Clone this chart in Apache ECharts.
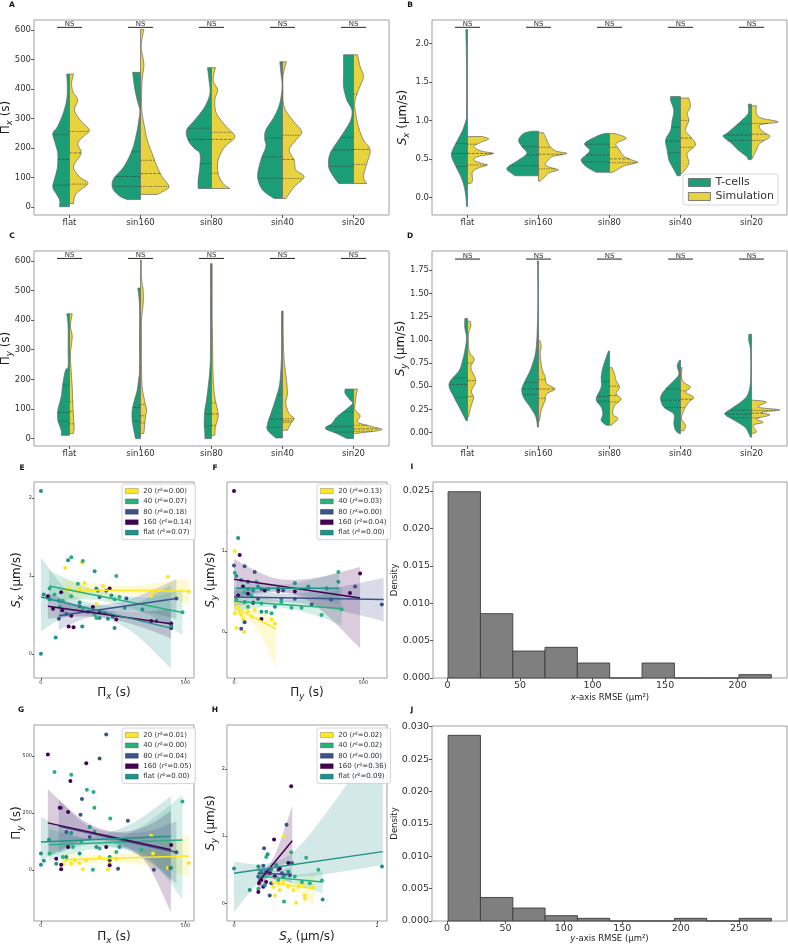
<!DOCTYPE html>
<html><head><meta charset="utf-8">
<script src="https://cdn.jsdelivr.net/npm/echarts@6/dist/echarts.min.js"></script>
<style>html,body{margin:0;padding:0;background:#fff}#c{width:788px;height:944px}</style>
</head><body><div id="c"></div>
<script>
const FONT = 'DejaVu Sans';
const CATEGORIES = ['flat','sin160','sin80','sin40','sin20'];
const GROUPS = ['20','40','80','160','flat'];
const NS_LABELS = ['NS','NS','NS','NS','NS'];
const NS_LEVEL = [610, 2.21, 608, 1.87]; // panels A-D

// ---- violin profiles: [value, half-width as fraction of category band] ----
const A_T = [
 [[451,0.04],[408,0.03],[363,0.04],[317,0.09],[272,0.17],[249,0.235],[215,0.2],[181,0.165],[136,0.17],[113,0.19],[68,0.235],[45,0.19],[23,0.14],[0,0.14]],
 [[457,0.11],[408,0.085],[363,0.047],[329,0.01],[295,0.023],[249,0.056],[193,0.117],[136,0.235],[102,0.36],[80,0.4],[57,0.38],[34,0.28],[25,0.19]],
 [[473,0.056],[431,0.035],[385,0.023],[340,0.094],[295,0.235],[261,0.35],[227,0.33],[200,0.25],[181,0.164],[136,0.164],[91,0.188],[62,0.188]],
 [[493,0.038],[450,0.02],[408,0.005],[352,0.038],[306,0.117],[261,0.235],[230,0.25],[204,0.235],[159,0.305],[102,0.35],[57,0.28],[28,0.117]],
 [[517,0.14],[450,0.14],[408,0.14],[363,0.094],[329,0.023],[295,0.038],[261,0.117],[227,0.21],[181,0.33],[136,0.35],[102,0.28],[79,0.21]]
];
const A_S = [
 [[451,0.056],[420,0.03],[390,0.05],[363,0.117],[329,0.07],[295,0.15],[261,0.28],[240,0.2],[215,0.117],[181,0.164],[136,0.056],[100,0.15],[79,0.26],[45,0.094],[11,0.056]],
 [[603,0.047],[560,0.014],[533,0.014],[500,0.04],[476,0.047],[431,0.023],[363,0.014],[317,0.023],[272,0.056],[227,0.094],[181,0.164],[136,0.235],[102,0.305],[68,0.4],[50,0.3],[42,0.235]],
 [[473,0.056],[431,0.023],[397,0.085],[363,0.047],[317,0.07],[272,0.21],[238,0.33],[204,0.188],[159,0.094],[113,0.094],[79,0.164],[62,0.26]],
 [[493,0.056],[450,0.01],[400,0.005],[340,0.023],[295,0.14],[255,0.27],[227,0.188],[193,0.094],[159,0.164],[125,0.188],[102,0.305],[68,0.164],[28,0.047]],
 [[517,0.056],[476,0.094],[442,0.14],[397,0.07],[363,0.023],[329,0.023],[272,0.07],[227,0.14],[193,0.235],[147,0.188],[102,0.14],[79,0.188]]
];
const A_TQ = [[73,161,245],[69,103,187],[147,229,267],[97,170,234],[137,193,236]];
const A_SQ = [[77,183,256],[69,113,158],[114,229,253],[96,161,243],[144,195,383]];

const B_T = [
 [[2.18,0.023],[1.7,0.014],[1.09,0.014],[1.0,0.023],[0.87,0.07],[0.745,0.14],[0.615,0.21],[0.53,0.225],[0.4,0.164],[0.27,0.094],[0.14,0.047],[0.01,0.023],[-0.12,0.014]],
 [[0.86,0.085],[0.83,0.21],[0.745,0.28],[0.66,0.235],[0.57,0.164],[0.485,0.28],[0.38,0.445],[0.31,0.375],[0.28,0.33]],
 [[0.83,0.07],[0.79,0.188],[0.7,0.35],[0.615,0.28],[0.55,0.33],[0.485,0.4],[0.4,0.33],[0.325,0.188]],
 [[1.31,0.14],[1.26,0.14],[1.13,0.094],[1.0,0.117],[0.87,0.14],[0.745,0.21],[0.615,0.188],[0.485,0.164],[0.4,0.117],[0.28,0.047]],
 [[1.21,0.047],[1.09,0.047],[1.0,0.14],[0.92,0.235],[0.83,0.35],[0.79,0.4],[0.7,0.28],[0.615,0.188],[0.53,0.07],[0.49,0.047]]
];
const B_S = [
 [[0.79,0.21],[0.76,0.3],[0.72,0.2],[0.66,0.09],[0.6,0.2],[0.57,0.366],[0.53,0.15],[0.485,0.09],[0.44,0.2],[0.42,0.28],[0.38,0.15],[0.33,0.07],[0.25,0.07],[0.21,0.07],[0.18,0.047]],
 [[0.84,0.07],[0.745,0.117],[0.66,0.164],[0.6,0.25],[0.57,0.4],[0.53,0.2],[0.485,0.14],[0.42,0.094],[0.38,0.2],[0.355,0.28],[0.32,0.15],[0.27,0.094],[0.21,0.023]],
 [[0.83,0.07],[0.77,0.235],[0.7,0.094],[0.615,0.14],[0.53,0.21],[0.48,0.33],[0.455,0.4],[0.42,0.25],[0.4,0.188],[0.325,0.047]],
 [[1.29,0.117],[1.18,0.14],[1.09,0.094],[1.0,0.117],[0.87,0.07],[0.79,0.14],[0.68,0.21],[0.57,0.094],[0.44,0.117],[0.31,0.023]],
 [[1.19,0.07],[1.09,0.07],[1.03,0.14],[0.98,0.375],[0.94,0.117],[0.85,0.164],[0.79,0.26],[0.7,0.117],[0.615,0.07],[0.53,0.023],[0.51,0.023]]
];
const B_TQ = [[0.40,0.57,0.70],[0.41,0.55,0.66],[0.46,0.55,0.69],[0.58,0.73,0.91],[0.74,0.81,0.95]];
const B_SQ = [[0.42,0.57,0.69],[0.37,0.56,0.65],[0.45,0.50,0.65],[0.65,0.77,1.0],[0.74,0.82,0.96]];

const C_T = [
 [[421,0.038],[380,0.02],[300,0.019],[242,0.02],[231,0.056],[186,0.094],[141,0.117],[96,0.164],[62,0.164],[28,0.117],[11,0.117]],
 [[508,0.038],[450,0.014],[350,0.014],[231,0.014],[197,0.028],[163,0.047],[130,0.085],[96,0.117],[62,0.117],[28,0.094],[0,0.07]],
 [[590,0.014],[450,0.014],[300,0.014],[231,0.023],[175,0.047],[130,0.07],[96,0.094],[51,0.103],[17,0.094],[0,0.094]],
 [[430,0.014],[350,0.014],[287,0.014],[231,0.023],[175,0.047],[118,0.117],[84,0.164],[51,0.21],[28,0.21],[2,0.094]],
 [[167,0.117],[152,0.117],[130,0.047],[118,0.014],[96,0.117],[73,0.235],[51,0.305],[34,0.4],[17,0.235],[0,0.094]]
];
const C_S = [
 [[421,0.038],[380,0.014],[343,0.038],[287,0.014],[231,0.023],[175,0.038],[118,0.047],[73,0.056],[39,0.066],[17,0.056]],
 [[602,0.014],[540,0.014],[500,0.038],[456,0.038],[400,0.014],[343,0.014],[250,0.014],[175,0.023],[130,0.056],[96,0.085],[73,0.07],[39,0.056],[17,0.047]],
 [[590,0.01],[500,0.01],[400,0.01],[343,0.014],[208,0.023],[141,0.047],[96,0.085],[73,0.094],[39,0.056],[11,0.047]],
 [[430,0.01],[350,0.01],[265,0.023],[197,0.056],[152,0.07],[118,0.047],[84,0.094],[68,0.164],[51,0.117],[28,0.07]],
 [[167,0.056],[146,0.038],[118,0.023],[96,0.023],[77,0.094],[56,0.056],[42,0.235],[30,0.4],[19,0.094],[17,0.023]]
];
const C_TQ = [[59,87,180],[58,105,242],[43,83,216],[38,66,148],[22,40,90]];
const C_SQ = [[50,92,125],[53,77,115],[45,83,120],[55,60,67],[25,33,45]];

const D_T = [
 [[1.23,0.038],[1.13,0.038],[1.02,0.014],[0.88,0.038],[0.775,0.07],[0.67,0.117],[0.525,0.26],[0.38,0.188],[0.275,0.117],[0.17,0.047],[0.13,0.023]],
 [[1.85,0.014],[1.5,0.01],[1.2,0.014],[0.95,0.028],[0.81,0.056],[0.67,0.117],[0.56,0.188],[0.47,0.235],[0.38,0.21],[0.275,0.117],[0.17,0.038],[0.06,0.014]],
 [[0.88,0.014],[0.81,0.047],[0.7,0.094],[0.6,0.117],[0.49,0.117],[0.36,0.188],[0.275,0.117],[0.2,0.094],[0.13,0.117],[0.08,0.047]],
 [[0.78,0.014],[0.72,0.047],[0.63,0.023],[0.56,0.094],[0.47,0.21],[0.38,0.28],[0.275,0.235],[0.2,0.094],[0.1,0.094],[0.025,0.07],[-0.01,0.023]],
 [[1.06,0.038],[0.99,0.038],[0.88,0.014],[0.56,0.014],[0.42,0.047],[0.35,0.117],[0.26,0.28],[0.2,0.375],[0.13,0.235],[0.06,0.094],[-0.01,0.038],[-0.05,0.014]]
];
const D_S = [
 [[1.2,0.038],[1.15,0.047],[1.06,0.014],[0.88,0.023],[0.79,0.094],[0.7,0.047],[0.56,0.117],[0.45,0.056],[0.38,0.085],[0.275,0.047],[0.2,0.023],[0.17,0.014]],
 [[0.99,0.023],[0.92,0.038],[0.85,0.023],[0.7,0.047],[0.6,0.094],[0.525,0.117],[0.47,0.235],[0.42,0.117],[0.35,0.094],[0.24,0.038],[0.17,0.023],[0.125,0.014]],
 [[0.7,0.038],[0.63,0.07],[0.56,0.094],[0.49,0.14],[0.42,0.094],[0.36,0.164],[0.29,0.07],[0.2,0.047],[0.15,0.117],[0.08,0.023]],
 [[0.7,0.023],[0.6,0.014],[0.54,0.047],[0.49,0.14],[0.435,0.07],[0.38,0.188],[0.33,0.117],[0.24,0.047],[0.15,0.014],[0.08,0.07],[0.02,0.047]],
 [[0.35,0.023],[0.33,0.21],[0.275,0.094],[0.245,0.4],[0.22,0.14],[0.19,0.26],[0.15,0.07],[0.11,0.164],[0.08,0.023],[0.01,0.07],[-0.01,0.014]]
];
const D_TQ = [[0.38,0.52,0.59],[0.41,0.47,0.54],[0.34,0.39,0.55],[0.27,0.35,0.47],[0.16,0.20,0.24]];
const D_SQ = [[0.39,0.56,0.75],[0.37,0.47,0.57],[0.33,0.40,0.50],[0.27,0.36,0.45],[0.16,0.21,0.24]];

const TICKS_A = [0,100,200,300,400,500,600];
const TICKS_B = [0,0.5,1,1.5,2];
const TICKS_C = [0,100,200,300,400,500,600];
const TICKS_D = [0,0.25,0.5,0.75,1,1.25,1.5,1.75];

// ---- scatter panels (order: 20, 40, 80, 160, flat) ----
const E_R2 = ['0.00','0.07','0.18','0.14','0.07'];
const E_20 = [[84,1.10],[142,1.17],[99,0.84],[134,0.84],[151,0.91],[163,0.82],[215,0.87],[440,0.99],[382,0.74],[512,0.80],[192,0.64],[238,0.71],[388,0.80]];
const E_40 = [[105,1.24],[145,1.19],[261,1.00],[47,0.76],[76,0.68],[105,0.74],[197,0.81],[255,0.70],[145,0.58],[186,0.50],[490,0.535],[192,0.46],[128,0.90],[30,0.84],[272,0.73]];
const E_80 = [[88,0.51],[62,0.45],[163,0.54],[221,0.52],[249,0.48],[296,0.71],[400,0.42],[469,0.71],[203,0.73],[134,0.61],[226,0.81]];
const E_160 = [[24,0.74],[70,0.79],[42,0.58],[74,0.56],[105,0.49],[96,0.35],[113,0.34],[180,0.60],[203,0.54],[238,0.84],[261,0.44],[382,0.42],[451,0.39],[451,0.33]];
const E_FLAT = [[0,2.09],[0,0],[10,0.76],[30,0.70],[62,0.68],[94,1.20],[186,1.06],[192,0.84],[244,0.75],[134,0.66],[65,0.60],[51,0.21],[143,0.35],[232,0.45],[255,0.33],[290,0.59],[351,0.57],[203,0.46],[451,0.35]];
const E_FITS = [[[76,0.82],[512,0.805]],[[28,0.87],[490,0.53]],[[62,0.49],[469,0.71]],[[24,0.61],[450,0.385]],[[0,0.73],[450,0.33]]];
const E_BANDS = [
 [[76,0.70,0.95],[200,0.75,0.89],[300,0.76,0.87],[420,0.72,0.92],[512,0.64,0.96]],
 [[28,0.67,1.07],[150,0.70,0.87],[260,0.64,0.76],[380,0.49,0.73],[490,0.24,0.83]],
 [[62,0.31,0.67],[160,0.46,0.62],[280,0.54,0.67],[380,0.52,0.81],[469,0.45,0.96]],
 [[24,0.45,0.78],[130,0.48,0.63],[240,0.45,0.55],[350,0.34,0.54],[450,0.20,0.58]],
 [[0,0.29,1.24],[100,0.50,0.78],[200,0.48,0.63],[320,0.27,0.64],[450,-0.19,0.88]]
];

const F_R2 = ['0.13','0.03','0.00','0.04','0.00'];
const F_20 = [[3,1.0],[9,0.37],[16,0.31],[22,0.25],[28,0.21],[35,0.16],[41,0.13],[54,0.25],[9,0.05],[39,0.0],[80,0.27],[145,0.15],[158,0.10],[67,0.19],[3,0.23]];
const F_40 = [[3,0.73],[9,0.40],[54,0.31],[67,0.45],[106,0.35],[125,0.25],[145,0.23],[183,0.37],[222,0.30],[261,0.30],[338,0.21],[403,0.74],[416,0.28],[87,0.62],[41,0.49]];
const F_80 = [[0,0.82],[41,0.81],[80,0.74],[54,0.62],[106,0.53],[190,0.51],[235,0.41],[300,0.34],[375,0.40],[468,0.56],[571,0.34],[41,0.12],[28,0.04],[93,0.41],[171,0.50]];
const F_160 = [[0,1.74],[22,0.95],[487,0.72],[448,0.48],[106,0.16],[54,0.47],[119,0.51],[235,0.50],[16,0.45],[74,0.36],[171,0.53],[35,0.56]];
const F_FLAT = [[16,1.16],[9,0.69],[28,0.64],[54,0.53],[74,0.51],[93,0.56],[132,0.53],[235,0.60],[287,0.56],[358,0.54],[41,0.37],[158,0.31],[183,0.41],[403,0.62],[106,0.25]];
const F_FITS = [[[0,0.31],[161,0.04]],[[0,0.38],[416,0.29]],[[0,0.43],[578,0.40]],[[0,0.65],[487,0.42]],[[9,0.54],[406,0.54]]];
const F_BANDS = [
 [[0,0.21,0.42],[60,0.14,0.29],[110,-0.08,0.24],[161,-0.45,0.16]],
 [[0,0.25,0.52],[150,0.31,0.40],[300,0.22,0.42],[416,0.08,0.55]],
 [[0,0.32,0.56],[200,0.37,0.47],[400,0.27,0.55],[578,0.13,0.67]],
 [[0,0.42,0.90],[150,0.50,0.67],[300,0.36,0.66],[487,-0.20,0.80]],
 [[9,0.43,0.65],[200,0.49,0.59],[406,0.34,0.73]]
];

const G_R2 = ['0.01','0.00','0.04','0.05','0.00'];
const G_20 = [[76,25],[88,43],[105,28],[117,43],[134,31],[145,3],[157,43],[192,163],[203,57],[232,3],[238,28],[261,50],[382,150],[440,9],[512,31],[388,72]];
const G_40 = [[47,431],[105,419],[159,353],[182,343],[185,274],[240,226],[490,301],[30,72],[76,57],[180,1],[203,94],[261,79],[348,89],[111,101],[140,123]];
const G_80 = [[226,595],[203,490],[142,312],[70,273],[137,243],[301,216],[267,6],[391,1],[448,9],[469,78],[169,145],[238,43],[88,167]];
const G_160 = [[24,507],[102,391],[157,469],[65,273],[94,255],[70,3],[70,23],[451,110],[226,101],[53,50],[94,101],[238,21]];
const G_FLAT = [[0,72],[0,23],[10,41],[28,133],[53,28],[88,57],[134,72],[192,101],[186,167],[238,57],[272,101],[451,10],[105,163],[169,189]];
const G_FITS = [[[76,45],[512,62]],[[28,111],[490,132]],[[62,192],[469,78]],[[24,207],[450,89]],[[0,123],[450,148]]];
const G_BANDS = [
 [[76,18,73],[250,35,68],[400,10,100],[512,-30,155]],
 [[28,40,180],[150,85,140],[250,98,133],[370,60,210],[490,-130,330]],
 [[62,75,310],[150,130,205],[250,115,165],[370,45,170],[469,-60,215]],
 [[24,60,355],[150,130,215],[260,118,168],[360,40,190],[450,-185,260]],
 [[0,45,235],[120,100,150],[200,110,150],[330,70,215],[450,-45,325]]
];

const H_R2 = ['0.02','0.02','0.00','0.36','0.09'];
const H_20 = [[0.70,1.0],[0.57,0.12],[0.87,0.01],[0.99,0.12],[0.99,0.07],[1.11,0.25],[0.62,0.30],[0.69,0.32],[0.76,0.25],[0.83,0.20],[0.90,0.25],[0.64,0.20],[0.55,0.25],[0.95,0.30]];
const H_40 = [[0.80,0.76],[1.01,0.68],[1.18,0.50],[1.06,0.30],[0.70,0.03],[0.38,0.40],[0.50,0.46],[0.62,0.35],[0.71,0.42],[0.85,0.40],[0.95,0.32],[0.34,0.22],[0.45,0.69],[1.23,0.34]];
const H_80 = [[0.735,1.17],[0.42,0.82],[0.41,0.56],[0.50,0.12],[0.34,0.40],[0.45,0.47],[0.57,0.40],[0.67,0.45],[0.78,0.42],[0.52,0.30],[0.62,0.50],[0.81,0.60]];
const H_160 = [[0.80,1.74],[0.56,0.95],[0.34,0.17],[0.35,0.30],[0.38,0.35],[0.45,0.32],[0.50,0.45],[0.57,0.40],[0.64,0.52],[0.76,0.60],[0.41,0.25]];
const H_FLAT = [[0,0.52],[2.07,0.55],[0.22,0.20],[0.47,0.73],[1.24,0.06],[0.38,0.47],[0.52,0.50],[0.59,0.57],[0.69,0.40],[0.43,0.27],[0.76,0.47],[0.34,0.55]];
const H_FITS = [[[0.53,0.31],[1.12,0.22]],[[0.33,0.41],[1.24,0.32]],[[0.33,0.45],[0.81,0.43]],[[0.34,0.32],[0.815,0.93]],[[0,0.45],[2.08,0.77]]];
const H_BANDS = [
 [[0.53,0.22,0.39],[0.8,0.23,0.31],[1.12,-0.04,0.43]],
 [[0.33,0.30,0.53],[0.7,0.33,0.42],[1.24,0.15,0.48]],
 [[0.33,0.34,0.57],[0.55,0.39,0.48],[0.81,0.30,0.55]],
 [[0.34,0.15,0.46],[0.55,0.50,0.67],[0.815,0.62,1.45]],
 [[0,-0.12,0.62],[0.5,0.44,0.60],[1.0,0.40,0.95],[2.08,0.57,2.52]]
];

// ---- histograms ----
const I_EDGES = [0.4,22.7,45.0,67.2,89.5,111.8,134.1,156.4,178.6,200.9,223.2];
const I_DENS = [0.0249,0.0086,0.0036,0.0041,0.0020,0,0.0020,0,0,0.00045];
const J_EDGES = [0.9,28.6,56.3,83.9,111.6,139.3,167.0,194.7,222.3,250.0,277.7];
const J_DENS = [0.02866,0.00363,0.0020,0.00082,0.00041,0,0,0.00041,0,0.00041];

// ================= styles / helpers =================
const COL_T = '#1b9e77', COL_S = '#e8d33f';
const GCOL = ['#fde725','#2ab07f','#3b528b','#440154','#21918c'];
function rgba(hex, a){const n=parseInt(hex.slice(1),16);return `rgba(${n>>16},${(n>>8)&255},${n&255},${a})`;}
function catmull(pts, seg){
  if (pts.length < 3) return pts.slice();
  const out=[];
  for(let i=0;i<pts.length-1;i++){
    const p0=pts[Math.max(i-1,0)],p1=pts[i],p2=pts[i+1],p3=pts[Math.min(i+2,pts.length-1)];
    for(let s=0;s<seg;s++){const t=s/seg,t2=t*t,t3=t2*t;
      out.push([0,1].map(k=>0.5*((2*p1[k])+(-p0[k]+p2[k])*t+(2*p0[k]-5*p1[k]+4*p2[k]-p3[k])*t2+(-p0[k]+3*p1[k]-3*p2[k]+p3[k])*t3)));}
  }
  out.push(pts[pts.length-1]);
  return out;
}
function interpW(prof, q){
  if (q<=prof[0][0]) return prof[0][1];
  for(let k=1;k<prof.length;k++){ if(q<=prof[k][0]){const a=prof[k-1],b=prof[k];return a[1]+(b[1]-a[1])*(q-a[0])/(b[0]-a[0]);}}
  return prof[prof.length-1][1];
}
function RICH(fs){
  const lh = fs*1.4;
  return {m:{fontSize:fs,fontFamily:FONT,color:'#222',lineHeight:lh},
          i:{fontSize:fs,fontFamily:FONT,color:'#222',fontStyle:'italic',lineHeight:lh},
          s:{fontSize:fs*0.72,fontFamily:FONT,color:'#222',fontStyle:'italic',lineHeight:fs*0.75,verticalAlign:'bottom'}};
}
const N_PIX='{m|Π}{s|x}{m| (s)}', N_PIY='{m|Π}{s|y}{m| (s)}', N_SX='{i|S}{s|x}{m| (μm/s)}', N_SY='{i|S}{s|y}{m| (μm/s)}';

function axis(o){
  const ax = {type:o.type||'value', gridIndex:o.gi, axisLine:{show:false,onZero:false}, splitLine:{show:false},
    axisTick:{show:true,length:o.tl||3,lineStyle:{color:'#333',width:0.8}},
    axisLabel:{fontSize:o.fs,color:'#333',fontFamily:FONT,margin:o.lm||3},
    name:o.name||'', nameLocation:'middle', nameGap:o.ng||10, nameMoveOverlap:false,
    nameTextStyle:{fontSize:o.nfs||12,fontFamily:FONT,color:'#222',rich:RICH(o.nfs||12)}};
  if (ax.type==='category'){ax.data=o.cats;ax.boundaryGap=true;ax.axisTick.alignWithLabel=true;ax.axisLabel.interval=0;}
  else {ax.min=o.min;ax.max=o.max;ax.axisTick.customValues=o.ticks;ax.axisLabel.customValues=o.ticks;if(o.fmt)ax.axisLabel.formatter=o.fmt;}
  return ax;
}

function violin(gi, name, color, profiles, quarts, side){
  return {type:'custom', name, xAxisIndex:gi, yAxisIndex:gi, itemStyle:{color}, z:2, silent:true,
    data: profiles.map((p,i)=>[i, quarts[i][1]]), encode:{x:0,y:1},
    renderItem:(params, api)=>{
      const i=params.dataIndex;
      const prof=profiles[i].slice().sort((a,b)=>a[0]-b[0]);
      const band=api.size([1,0])[0];
      const cx=api.coord([i,prof[0][0]])[0];
      const edge=prof.map(d=>{const p=api.coord([i,d[0]]);return [cx+side*d[1]*band,p[1]];});
      const sm=catmull(edge,6).map(p=>[side<0?Math.min(p[0],cx-0.3):Math.max(p[0],cx+0.3),p[1]]);
      const poly=[[cx,edge[0][1]]].concat(sm).concat([[cx,edge[edge.length-1][1]]]);
      const ch=[{type:'polygon',shape:{points:poly},style:{fill:color,stroke:'#666',lineWidth:0.7}}];
      quarts[i].forEach((q,k)=>{
        const w=interpW(prof,q); const y=api.coord([i,q])[1];
        ch.push({type:'line',shape:{x1:cx,y1:y,x2:cx+side*w*band,y2:y},
          style:{stroke:'#3a3a3a',lineWidth:0.6,lineDash:k===1?[3,1.2]:[1.5,1]}});
      });
      return {type:'group',children:ch};
    }};
}
function nsSeries(gi, level){
  return {type:'custom', xAxisIndex:gi, yAxisIndex:gi, z:5, silent:true,
    data: CATEGORIES.map((c,i)=>[i, level]), encode:{x:0,y:1},
    renderItem:(params, api)=>{
      const p=api.coord([api.value(0),api.value(1)]); const hw=api.size([1,0])[0]*0.176;
      return {type:'group',children:[
        {type:'line',shape:{x1:p[0]-hw,y1:p[1],x2:p[0]+hw,y2:p[1]},style:{stroke:'#222',lineWidth:1}},
        {type:'text',x:p[0],y:p[1]+0.5,style:{text:NS_LABELS[params.dataIndex],fill:'#333',font:'7px "DejaVu Sans"',align:'center',verticalAlign:'bottom'}}]};
    }};
}
function bandSeries(gi, bands, color){
  return {type:'custom', xAxisIndex:gi, yAxisIndex:gi, z:1, silent:true, clip:true,
    data:[[bands[0][0],bands[0][1]]], encode:{x:0,y:1},
    renderItem:(params, api)=>{
      const top=catmull(bands.map(d=>api.coord([d[0],d[2]])),8);
      const bot=catmull(bands.slice().reverse().map(d=>api.coord([d[0],d[1]])),8);
      return {type:'polygon',shape:{points:top.concat(bot)},style:{fill:rgba(color,0.2)}};
    }};
}
function scatterPanel(gi, pts, fits, bands){
  const s=[];
  bands.forEach((b,k)=>s.push(bandSeries(gi,b,GCOL[k])));
  pts.forEach((p,k)=>s.push({type:'scatter',name:GROUPS[k],xAxisIndex:gi,yAxisIndex:gi,data:p,symbolSize:4,
    itemStyle:{color:GCOL[k],opacity:1},z:3,silent:true}));
  fits.forEach((f,k)=>s.push({type:'line',xAxisIndex:gi,yAxisIndex:gi,data:f,symbol:'none',
    lineStyle:{color:GCOL[k],width:1.5},z:4,silent:true}));
  return s;
}
function scLegend(left, top, r2){
  return {data:GROUPS.map(g=>({name:g})), left, top, orient:'vertical', icon:'rect',
    itemWidth:13, itemHeight:5, itemGap:2.4, padding:[3,4,3,3],
    backgroundColor:'rgba(255,255,255,0.85)', borderColor:'#cccccc', borderWidth:0.8, borderRadius:2,
    selectedMode:false, itemStyle:{borderColor:'rgba(0,0,0,0.35)',borderWidth:0.6},
    textStyle:{fontSize:7,fontFamily:FONT,color:'#333',lineHeight:8,
      rich:{n:{fontSize:7,fontFamily:FONT,color:'#333'},i:{fontSize:7,fontFamily:FONT,color:'#333',fontStyle:'italic'}}},
    formatter:(name)=>`{n|${name} (}{i|r}{n|²=${r2[GROUPS.indexOf(name)]})}`};
}
function histSeries(gi, edges, dens){
  return {type:'custom', xAxisIndex:gi, yAxisIndex:gi, silent:true,
    data: dens.map((h,k)=>[edges[k],edges[k+1],h]), encode:{x:[0,1],y:2},
    renderItem:(params, api)=>{
      const p0=api.coord([api.value(0),api.value(2)]), p1=api.coord([api.value(1),0]);
      return {type:'rect',shape:{x:p0[0],y:p0[1],width:p1[0]-p0[0],height:p1[1]-p0[1]},
        style:{fill:'#7f7f7f',stroke:'#3c3c3c',lineWidth:0.9}};
    }};
}

const grids = [
  {left:34,top:20,width:355,height:195},
  {left:432,top:20,width:355,height:195},
  {left:34,top:251,width:355,height:195},
  {left:432,top:251,width:355,height:195},
  {left:34,top:482,width:160,height:196},
  {left:227,top:482,width:160,height:196},
  {left:34,top:725,width:160,height:196},
  {left:227,top:725,width:160,height:196},
  {left:433,top:482,width:354,height:196},
  {left:432,top:726,width:355,height:195}
].map(g=>Object.assign(g,{show:true,borderColor:'#a0a0a0',borderWidth:1,backgroundColor:'transparent',containLabel:false,outerBoundsMode:'none'}));

const f1=v=>v.toFixed(1), f2=v=>v.toFixed(2), f3=v=>v.toFixed(3);
const xAxes = [
  axis({gi:0,type:'category',cats:CATEGORIES,fs:8.5}),
  axis({gi:1,type:'category',cats:CATEGORIES,fs:8.5}),
  axis({gi:2,type:'category',cats:CATEGORIES,fs:8.5}),
  axis({gi:3,type:'category',cats:CATEGORIES,fs:8.5}),
  axis({gi:4,min:-24,max:530,ticks:[0,500],fs:5,tl:2,lm:2,name:N_PIX,nfs:12,ng:6}),
  axis({gi:5,min:-27,max:591,ticks:[0,500],fs:5,tl:2,lm:2,name:N_PIY,nfs:12,ng:6}),
  axis({gi:6,min:-24,max:530,ticks:[0,500],fs:5,tl:2,lm:2,name:N_PIX,nfs:12,ng:7}),
  axis({gi:7,min:-0.098,max:2.14,ticks:[0,2],fs:5,tl:2,lm:2,name:N_SX,nfs:12,ng:7}),
  axis({gi:8,min:-10,max:234,ticks:[0,50,100,150,200],fs:9.5,name:'{i|x}{m|-axis RMSE (μm²)}',nfs:8.5,ng:14}),
  axis({gi:9,min:-12.9,max:291,ticks:[0,50,100,150,200,250],fs:9.5,name:'{i|y}{m|-axis RMSE (μm²)}',nfs:8.5,ng:12})
];
const yAxes = [
  axis({gi:0,min:-28,max:635,ticks:TICKS_A,fs:8.5,name:N_PIX,nfs:12,ng:20}),
  axis({gi:1,min:-0.23,max:2.305,ticks:TICKS_B,fmt:f1,fs:8.5,name:N_SX,nfs:12,ng:21}),
  axis({gi:2,min:-25,max:633,ticks:TICKS_C,fs:8.5,name:N_PIY,nfs:12,ng:20}),
  axis({gi:3,min:-0.144,max:1.957,ticks:TICKS_D,fmt:f2,fs:8.5,name:N_SY,nfs:12,ng:23}),
  axis({gi:4,min:-0.31,max:2.205,ticks:[0,1,2],fs:5,tl:2,lm:2,name:N_SX,nfs:12,ng:9}),
  axis({gi:5,min:-0.568,max:1.85,ticks:[0,1],fs:5,tl:2,lm:2,name:N_SY,nfs:12,ng:8}),
  axis({gi:6,min:-224,max:637,ticks:[0,250,500],fs:5,tl:2,lm:2,name:N_PIY,nfs:12,ng:9}),
  axis({gi:7,min:-0.26,max:2.65,ticks:[0,1,2],fs:5,tl:2,lm:2,name:N_SY,nfs:12,ng:8}),
  axis({gi:8,min:0,max:0.0262,ticks:[0,0.005,0.01,0.015,0.02,0.025],fmt:f3,fs:9.5,name:'{m|Density}',nfs:8.5,ng:32}),
  axis({gi:9,min:0,max:0.0301,ticks:[0,0.005,0.01,0.015,0.02,0.025,0.03],fmt:f3,fs:9.5,name:'{m|Density}',nfs:8.5,ng:31})
];

const series = [];
[[0,A_T,A_S,A_TQ,A_SQ],[1,B_T,B_S,B_TQ,B_SQ],[2,C_T,C_S,C_TQ,C_SQ],[3,D_T,D_S,D_TQ,D_SQ]].forEach(([gi,T,S,TQ,SQ])=>{
  series.push(violin(gi,'T-cells',COL_T,T,TQ,-1));
  series.push(violin(gi,'Simulation',COL_S,S,SQ,1));
  series.push(nsSeries(gi,NS_LEVEL[gi]));
});
series.push(...scatterPanel(4,[E_20,E_40,E_80,E_160,E_FLAT],E_FITS,E_BANDS));
series.push(...scatterPanel(5,[F_20,F_40,F_80,F_160,F_FLAT],F_FITS,F_BANDS));
series.push(...scatterPanel(6,[G_20,G_40,G_80,G_160,G_FLAT],G_FITS,G_BANDS));
series.push(...scatterPanel(7,[H_20,H_40,H_80,H_160,H_FLAT],H_FITS,H_BANDS));
series.push(histSeries(8,I_EDGES,I_DENS));
series.push(histSeries(9,J_EDGES,J_DENS));

const legends = [
  {data:[{name:'T-cells'},{name:'Simulation'}], left:683, top:174, orient:'vertical', icon:'rect',
   itemWidth:22, itemHeight:8, itemGap:3, padding:[3,4,3,5], backgroundColor:'rgba(255,255,255,0.85)',
   borderColor:'#cccccc', borderWidth:0.8, borderRadius:3, selectedMode:false,
   itemStyle:{borderColor:'#666',borderWidth:0.8},
   textStyle:{fontSize:11,fontFamily:FONT,color:'#333'}},
  scLegend(122,484,E_R2), scLegend(317,484,F_R2), scLegend(122,728,G_R2), scLegend(317,728,H_R2)
];

const letters = [['A',12,5],['B',410,5],['C',12,236],['D',410,236],['E',22,468],['F',215,468],['I',412,467],['G',21,710],['H',215,710],['J',412,710]];
const graphic = letters.map(([t,x,y])=>({type:'text',x,y,style:{text:t,font:'bold 7.5px "DejaVu Sans"',fill:'#111',align:'center',verticalAlign:'middle'}}));

const chart = echarts.init(document.getElementById('c'), null, {renderer:'canvas'});
chart.setOption({animation:false, backgroundColor:'#fff', grid:grids, xAxis:xAxes, yAxis:yAxes, series, legend:legends, graphic});
</script></body></html>
